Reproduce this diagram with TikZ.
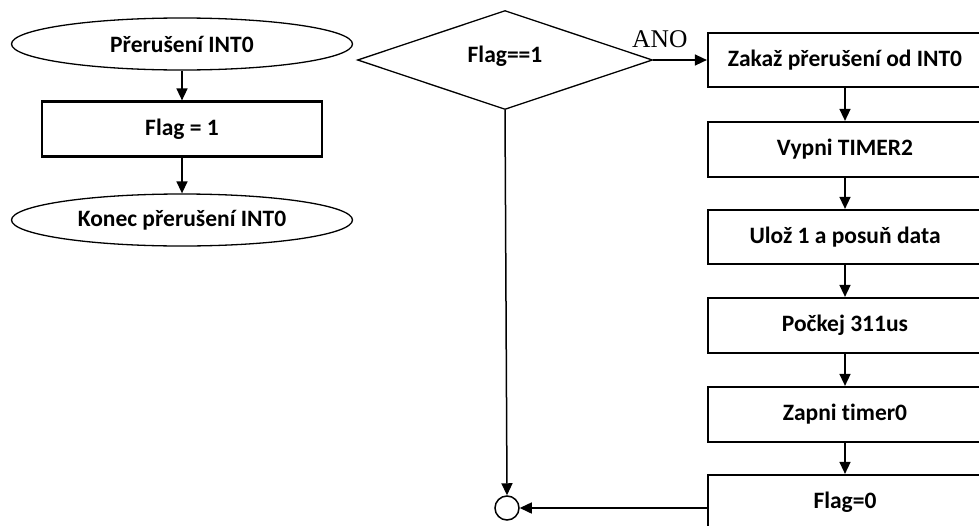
\documentclass[tikz,border=0pt]{standalone}
\usepackage{fontspec}
\setmainfont{Carlito}[Ligatures=NoCommon]
\newfontfamily\serifano{Liberation Serif}
\usetikzlibrary{shapes.geometric,arrows.meta}
\begin{document}
\begin{tikzpicture}[x=1pt,y=-1pt,
  lbl/.style={font=\fontsize{23.5}{26}\selectfont\bfseries},
  procbox/.style={draw,line width=2.2pt,minimum height=#1,inner sep=0pt,lbl},
  oval/.style={draw,ellipse,line width=1.3pt,inner sep=0pt,minimum width=341pt,minimum height=52pt,lbl},
  arr/.style={line width=1.5pt,-{Triangle[length=12pt,width=11pt]}}]
\useasboundingbox (0,0) rectangle (979,525);
\clip (0,0) rectangle (979,525);
% left column
\node[oval] (i1) at (182,44) {Přerušení INT0};
\node[procbox=55pt,minimum width=280pt] (f1) at (182,129) {Flag = 1};
\node[oval] (i2) at (182,220) {Konec přerušení INT0};
\draw[arr] (i1.south) -- (f1.north);
\draw[arr] (f1.south) -- (i2.north);
% decision
\node[draw,diamond,aspect=2.98,line width=1.3pt,inner sep=0pt,minimum width=295pt,minimum height=99pt] (d) at (505,60) {};
\node[lbl] (dt) at (505,56) {Flag==1};
% right column
\node[procbox=54pt,minimum width=274pt] (b1) at (845,60) {Zakaž přerušení od INT0};
\node[procbox=55pt,minimum width=274pt] (b2) at (845,149.5) {Vypni TIMER2};
\node[procbox=54pt,minimum width=274pt] (b3) at (845,237) {Ulož 1 a posuň data};
\node[procbox=55pt,minimum width=274pt] (b4) at (845,325.5) {Počkej 311us};
\node[procbox=55pt,minimum width=274pt] (b5) at (845,414.5) {Zapni timer0};
\node[procbox=55pt,minimum width=274pt] (b6) at (845,502.5) {Flag=0};
\node[draw,circle,line width=1.5pt,minimum size=24pt,inner sep=0pt] (c) at (507,508) {};
\node[font=\serifano\fontsize{25.5}{27}\selectfont,anchor=south west,inner sep=0pt] (ano) at (632,48) {ANO};
\draw[arr] (d.east) -- (d.east -| b1.west);
\draw[arr] (b1) -- (b2);
\draw[arr] (b2) -- (b3);
\draw[arr] (b3) -- (b4);
\draw[arr] (b4) -- (b5);
\draw[arr] (b5) -- (b6);
\draw[arr] (d.south) -- (c.north);
\draw[arr] (c.east -| b6.west) -- (c.east);
\end{tikzpicture}
\end{document}
